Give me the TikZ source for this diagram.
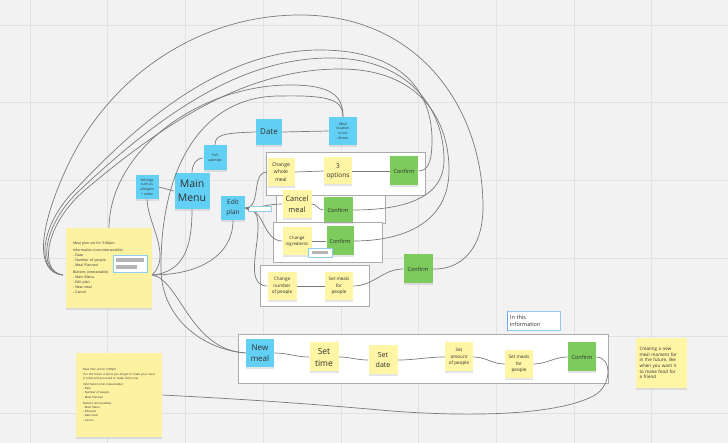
\documentclass[tikz,border=0pt]{standalone}
\usepackage{fontspec}
\setmainfont{Open Sans}
\usetikzlibrary{arrows,positioning,shadows}

\definecolor{board}{HTML}{F2F2F2}
\definecolor{gridc}{HTML}{E2E2E2}
\definecolor{stickyblue}{HTML}{62D0F4}
\definecolor{stickyyellow}{HTML}{FEF5A5}
\definecolor{stickypad}{HTML}{FDF2A2}
\definecolor{stickygreen}{HTML}{7CCB5C}
\definecolor{wirec}{HTML}{7A7A7A}
\definecolor{framec}{HTML}{ABABAB}
\definecolor{inkc}{HTML}{2E2E2E}
\definecolor{fieldblue}{HTML}{8FCDEE}
\definecolor{barc}{HTML}{B4B4B4}

\begin{document}
\begin{tikzpicture}[x=1pt,y=-1pt,>=stealth',semithick]
\tikzset{sticky/.style={rectangle,inner sep=1pt,align=center,text=inkc,minimum width=28pt,minimum height=28pt,drop shadow={shadow xshift=0pt,shadow yshift=-1.6pt,opacity=.2}}}
\tikzset{bluenote/.style={sticky,fill=stickyblue},yellownote/.style={sticky,fill=stickyyellow},greennote/.style={sticky,fill=stickygreen}}
\tikzset{bignote/.style={sticky,fill=stickypad,align=left,text width=72pt,inner sep=7pt}}
\tikzset{framebox/.style={draw=framec,fill=white,line width=1pt},wire/.style={draw=wirec,line width=.7pt}}
\tikzset{field/.style={draw=fieldblue,fill=white,line width=.6pt,inner sep=0pt}}
\tikzset{txtA/.style={font=\fontsize{10.5}{14}\selectfont},txtB/.style={font=\fontsize{8}{11.5}\selectfont},txtC/.style={font=\fontsize{7}{10}\selectfont},txtD/.style={font=\fontsize{5.5}{7.5}\selectfont},txtE/.style={font=\fontsize{4.6}{6.4}\selectfont},txtT/.style={font=\fontsize{3.5}{4.8}\selectfont}}

        \useasboundingbox (0,0) rectangle (728,443);
        \fill[board] (0,0) rectangle (728,443);
        \draw[gridc,line width=.5pt,step=77.7pt,xshift=30pt,yshift=-25pt] (-30,-25) grid (698,418);

        % frames
        \draw[framebox] (266,153) rectangle (425,196);
        \draw[framebox] (276,196) rectangle (385,224);
        \draw[framebox] (273,223) rectangle (382,263);
        \draw[framebox] (260,266) rectangle (369,307);
        \draw[framebox] (238,335) rectangle (608,383);

        \node[bluenote,txtB,minimum width=26pt,minimum height=26pt]         (date) at (269,132) {Date};
        \node[bluenote,txtT]                                                  (mloc) at (343,131) {Meal\\location\\to set\\dinner};
        \node[bluenote,txtT,minimum width=23pt,minimum height=25pt]          (cal)  at (215,158) {Full\\calendar};
        \node[bluenote,txtT,minimum width=23pt,minimum height=24pt]          (sett) at (147,187) {Settings\\such as\\allergies\\+ order};
        \node[bluenote,txtA,minimum width=35pt,minimum height=36pt]          (menu) at (192,191) {Main\\Menu};
        \node[bluenote,txtD,font=\fontsize{6.5}{9.5}\selectfont,minimum width=24pt,minimum height=24pt] (edit) at (233,208) {Edit\\plan};

        \node[yellownote,txtD,font=\fontsize{5}{7.5}\selectfont,minimum width=27pt] (cwm)   at (281,172) {Change\\whole\\meal};
        \node[yellownote,txtD,font=\fontsize{6.5}{9}\selectfont,minimum height=27pt] (opt3)  at (338,171) {3\\options};
        \node[greennote,txtD,minimum height=29pt]                                     (conf1) at (404,171) {Confirm};
        \node[yellownote,txtC,font=\fontsize{7.4}{10.5}\selectfont,minimum width=29pt] (cmeal) at (297,204) {Cancel\\meal};
        \node[greennote,txtD,minimum width=29pt,minimum height=25pt]                  (conf2) at (338,210) {Confirm};
        \node[yellownote,txtE,font=\fontsize{4.3}{6}\selectfont,minimum width=29pt]   (cing)  at (297,241) {Change\\ingredients};
        \node[greennote,txtD,minimum width=27pt,minimum height=29pt]                  (conf3) at (340,241) {Confirm};
        \node[yellownote,txtE,minimum width=29pt]                                     (cnum)  at (282,286) {Change\\number\\of people};
        \node[yellownote,txtE]                                                        (smeal) at (339,286) {Set meals\\for\\people};
        \node[greennote,txtD,minimum width=29pt,minimum height=29pt]                  (conf4) at (418,269) {Confirm};

        \node[bluenote,txtB]                                            (nmeal)  at (260,353) {New\\meal};
        \node[yellownote,txtB,font=\fontsize{8.5}{12}\selectfont,minimum width=29pt,minimum height=29pt] (stime) at (324,357) {Set\\time};
        \node[yellownote,txtC,minimum width=29pt,minimum height=29pt]   (sdate)  at (383,360) {Set\\date};
        \node[yellownote,txtE,minimum height=29pt]                      (samt)   at (459,357) {Set\\amount\\of people};
        \node[yellownote,txtE]                                          (smeal2) at (519,364) {Set meals\\for\\people};
        \node[greennote,txtD,minimum height=29pt]                       (conf5)  at (582,357) {Confirm};

        \node[bignote,minimum height=80pt,font=\fontsize{3.5}{5}\selectfont] (note1) at (109,268)
            {Meal plan set for 5:00pm\\[2pt]Information (non-interactable)\\- Date\\- Number of people\\- Meal Planned\\[2pt]Buttons (interactable)\\- Main Menu\\- Edit plan\\- New meal\\- Cancel};
        \node[bignote,minimum height=84pt,font=\fontsize{2.8}{4.2}\selectfont] (note2) at (119,395)
            {Meal Plan set for 5:00pm\\If in the future it alerts you (forgot to make your meal\\in time) and you need to make them now\\[2pt]Information (non-interactable)\\- Date\\- Number of people\\- Meal Planned\\[2pt]Buttons (interactable)\\- Main Menu\\- Edit plan\\- New meal\\- Cancel};
        \node[sticky,fill=stickyyellow,align=left,text width=43pt,inner sep=4pt,minimum height=50pt,font=\fontsize{4.5}{5.6}\selectfont] (note3) at (661,363)
            {Creating a new\\meal moment for\\in the future, like\\when you want it\\to make food for\\a friend};

        \node[draw=fieldblue,fill=white,line width=.4pt,align=left,text=inkc,inner sep=2pt,minimum width=53pt,minimum height=19pt,text width=48pt,font=\fontsize{5.5}{7.5}\selectfont] (info) at (534,321) {In this\\information};
        \draw[fieldblue!80!blue,line width=1pt] (info.north west) -- (info.south west);

        \coordinate (hubR) at ([yshift=-7pt]note1.east);
        \coordinate (hubL) at ([xshift=-3pt,yshift=-7pt]note1.west);

        \path[wire]
        (sett.east)   edge                    (menu.west)
        (date.east)   edge                    (mloc.west)
        (cwm.east)    edge                    (opt3.west)
        (opt3.east)   edge                    (conf1.west)
        (cmeal.east)  edge[out=0,in=180]      (conf2.west)
        (cing.east)   edge                    (conf3.west)
        (cnum.east)   edge                    (smeal.west)
        (smeal.east)  edge[out=0,in=180]      (conf4.west)
        (edit.east)   edge[out=0,in=180]      (cwm.west)
        (edit.east)   edge[out=0,in=180]      (cmeal.west)
        (edit.east)   edge[out=0,in=180]      (cing.west)
        (edit.east)   edge[out=0,in=180]      (cnum.west)
        (nmeal.east)  edge[out=0,in=180]      (stime.west)
        (stime.east)  edge[out=0,in=180]      (sdate.west)
        (sdate.east)  edge[out=0,in=180]      (samt.west)
        (samt.east)   edge[out=0,in=180]      (smeal2.west)
        (smeal2.east) edge[out=0,in=180]      (conf5.west)
        ; %end path

        \draw[wire] (menu.north) .. controls (192,165) and (196,158) .. (cal.west);
        \draw[wire] (cal.north) .. controls (215,135) and (222,133) .. (date.west);
        \draw[wire] (sett.south) .. controls (148,225) and (172,255) .. (hubR);
        \draw[wire] (menu.south) .. controls (192,245) and (185,272) .. (hubR);
        \draw[wire] (edit.south) .. controls (233,255) and (200,275) .. (hubR);
        \draw[wire] (hubR) .. controls (180,280) and (190,350) .. (nmeal.west);
        \draw[wire] (conf5.east) .. controls (612,357) and (612,385) .. (595,395) .. controls (560,415) and (470,418) .. (380,410) .. controls (290,402) and (220,398) .. (note2.east);

        % long loops back from the notes
        \draw[wire] (hubL) .. controls (35,272) and (38,230) .. (67,167) .. controls (110,75) and (200,15) .. (300,15) .. controls (420,15) and (483,110) .. (483,207) .. controls (483,250) and (460,270) .. (conf4.east);
        \draw[wire] (hubL) .. controls (35,272) and (40,225) .. (75,190) .. controls (150,110) and (230,50) .. (320,50) .. controls (400,50) and (432,90) .. (432,140) .. controls (432,162) and (428,171) .. (conf1.east);
        \draw[wire] (hubL) .. controls (37,272) and (42,225) .. (80,190) .. controls (160,115) and (240,58) .. (330,58) .. controls (410,58) and (444,110) .. (444,160) .. controls (444,200) and (400,210) .. (conf2.east);
        \draw[wire] (hubL) .. controls (39,272) and (44,225) .. (85,190) .. controls (170,118) and (250,69) .. (340,69) .. controls (420,69) and (449,120) .. (449,170) .. controls (449,225) and (400,241) .. (conf3.east);
        \draw[wire] (note1.north) .. controls (110,150) and (200,85) .. (290,85) .. controls (330,85) and (343,95) .. (mloc.north);
        \draw[wire] (nmeal.west) .. controls (205,350) and (162,320) .. (161,270) .. controls (160,170) and (200,96) .. (280,96) .. controls (330,95) and (343,100) .. (mloc.north);

        % input fields
        \node[field,minimum width=34pt,minimum height=17pt] (fld1) at (130,263.5) {};
        \fill[barc] (116,258) rectangle (144,262);
        \fill[barc] (116,265) rectangle (137,269);
        \node[field,minimum width=23pt,minimum height=5pt]  (fld2) at (259.5,208.5) {};
        \node[field,minimum width=24pt,minimum height=9pt]  (fld3) at (320,252.5) {};
        \fill[barc] (312,251) rectangle (328,254);
        \draw[->,wirec,line width=.6pt] (fld2.west) -- (edit.east);

\end{tikzpicture}
\end{document}
